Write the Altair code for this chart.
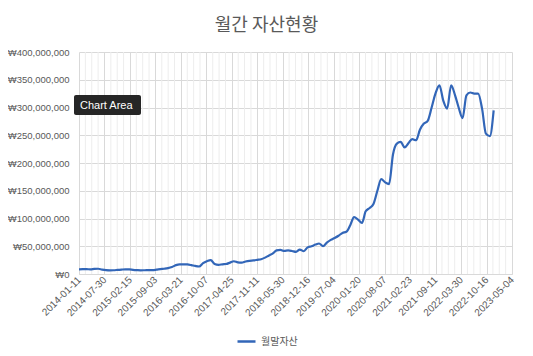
import altair as alt
import pandas as pd

# ---- data (values in millions of won, month-end assets) ----
start_date = "2014-01-11"
asset_millions = [
    8.5, 8.7, 8.8, 8.3, 9.2, 9.5, 8.0, 7.0, 6.7, 6.8,
    7.5, 8.0, 8.4, 8.2, 7.5, 7.0, 6.7, 6.8, 6.9, 7.0,
    7.8, 8.8, 9.5, 10.5, 12.5, 16.0, 17.5, 17.5, 17.2, 16.0,
    14.5, 13.5, 19.5, 23.0, 25.0, 18.0, 16.5, 17.5, 18.0, 20.5,
    23.0, 21.0, 20.5, 22.5, 23.8, 24.5, 25.5, 26.5, 29.5, 33.5,
    36.8, 42.5, 43.5, 41.5, 42.5, 41.5, 40.0, 44.0, 41.0, 48.0,
    50.0, 53.0, 55.0, 50.0, 56.5, 61.5, 65.0, 69.0, 74.0, 76.0,
    88.0, 102.5, 98.0, 92.0, 113.0, 119.0, 126.0, 150.0, 171.0, 165.0,
    162.0, 215.0, 235.0, 238.0, 228.0, 236.0, 243.0, 241.0, 260.0, 271.0,
    276.0, 300.0, 326.0, 340.0, 312.0, 298.0, 340.0, 322.0, 300.0, 281.0,
    322.0, 327.0, 325.0, 325.0, 298.0, 253.0, 248.5, 295.0,
]
series_name = "월말자산"
x_tick_labels = [
    "2014-01-11", "2014-07-30", "2015-02-15", "2015-09-03", "2016-03-21",
    "2016-10-07", "2017-04-25", "2017-11-11", "2018-05-30", "2018-12-16",
    "2019-07-04", "2020-01-20", "2020-08-07", "2021-02-23", "2021-09-11",
    "2022-03-30", "2022-10-16", "2023-05-04",
]
y_ticks = [0, 50e6, 100e6, 150e6, 200e6, 250e6, 300e6, 350e6, 400e6]

dates = pd.date_range(start_date, periods=len(asset_millions),
                      freq=pd.DateOffset(months=1))
df = pd.DataFrame({
    "date": [d.strftime("%Y-%m-%d") for d in dates],
    "value": [v * 1e6 for v in asset_millions],
    "series": series_name,
})


def ms(s):
    return int(pd.Timestamp(s, tz="UTC").value // 10**6)


major_ms = [ms(s) for s in x_tick_labels]
minor_ms = []
for a, b in zip(major_ms[:-1], major_ms[1:]):
    step = (b - a) / 4
    minor_ms += [a + step * k for k in (1, 2, 3)]
minor_df = pd.DataFrame({"date": minor_ms})

x_domain = [major_ms[0], major_ms[-1]]
gray = "#595959"
grid = "#d9d9d9"

x_scale = alt.Scale(type="utc", domain=x_domain)
y_scale = alt.Scale(domain=[0, 400e6])

x_axis = alt.Axis(
    values=major_ms,
    labelExpr="utcFormat(datum.value, '%Y-%m-%d')",
    labelAngle=-45, labelAlign="right", labelBaseline="middle",
    labelFontSize=10, labelColor=gray, labelPadding=4,
    labelFont="Liberation Sans",
    grid=True, gridColor=grid, ticks=False,
    domainColor=grid, labelOverlap=False, labelFlush=False,
)

minor = alt.Chart(minor_df).mark_rule(color="#ededed", strokeWidth=1).encode(
    x=alt.X("date:T", scale=x_scale, title=None, axis=x_axis)
)

line = alt.Chart(df).mark_line(
    strokeWidth=2.2, interpolate="monotone"
).encode(
    x=alt.X("date:T", scale=x_scale, title=None, axis=x_axis),
    y=alt.Y(
        "value:Q", scale=y_scale, title=None,
        axis=alt.Axis(
            values=y_ticks,
            labelExpr="'₩' + format(datum.value, ',')",
            labelFontSize=9.5, labelColor=gray, labelPadding=10,
            labelFont="Liberation Sans",
            grid=True, gridColor=grid, ticks=False, domain=False,
        ),
    ),
    color=alt.Color(
        "series:N",
        scale=alt.Scale(domain=[series_name], range=["#3266b8"]),
        legend=alt.Legend(
            title=None, orient="none", legendX=157, legendY=279,
            symbolType="stroke", symbolSize=324, symbolStrokeWidth=2.5,
            labelFontSize=10, labelColor=gray, labelFont="Noto Sans CJK KR",
            padding=0,
        ),
    ),
)

tip_box = alt.Chart(df.head(1)).mark_rect(
    color="#262626", cornerRadius=2
).encode(
    x=alt.value(-5), x2=alt.value(62), y=alt.value(43), y2=alt.value(63)
)
tip_text = alt.Chart(df.head(1)).mark_text(
    text="Chart Area", color="white", fontSize=11, align="left",
    baseline="middle", font="Liberation Sans"
).encode(x=alt.value(1), y=alt.value(53.5))

chart = alt.layer(minor, line, tip_box, tip_text).properties(
    width=433, height=222,
    autosize=alt.AutoSizeParams(type="none"),
    padding={"left": 71, "top": 44, "right": 13, "bottom": 74},
    title=alt.TitleParams(
        "월간 자산현황", fontSize=18, fontWeight="normal", color=gray,
        font="Noto Sans CJK KR", anchor="middle", dx=-29, offset=12,
    ),
).configure_view(stroke=None)

chart.save("out.html", embed_options={"renderer": "svg", "actions": False})
